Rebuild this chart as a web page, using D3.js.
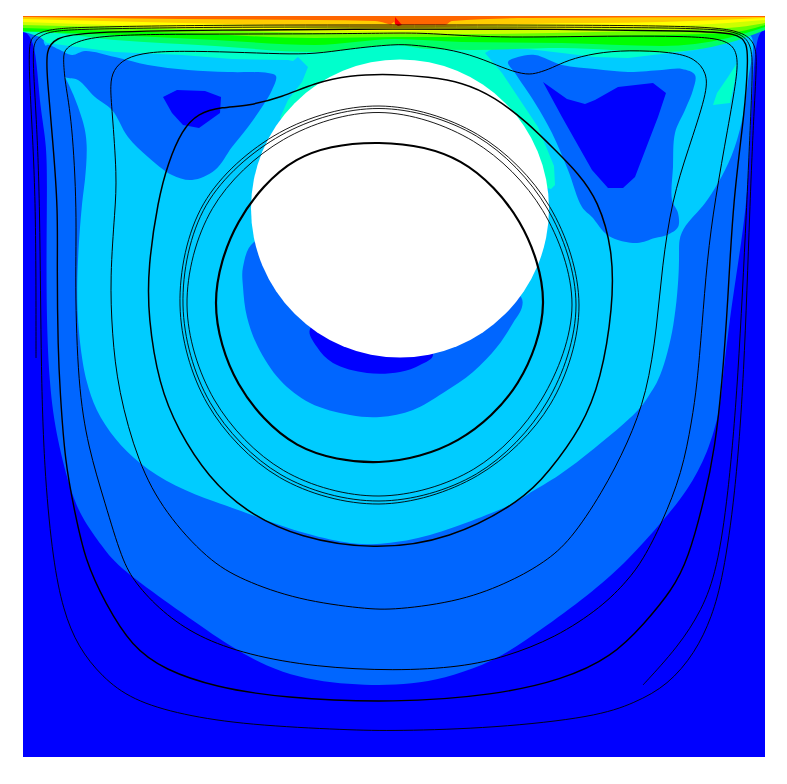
<!DOCTYPE html>
<html><head><meta charset="utf-8"><style>html,body{margin:0;background:#fff}svg{display:block}</style>
<script src="https://cdn.jsdelivr.net/npm/d3@7/dist/d3.min.js"></script></head><body><svg id="c" width="787" height="784"></svg>
<script>
// All geometry is in cavity units: x from left wall 0..742, y from moving lid 0..741.
const cavityWidth = 742, cavityDepth = 741;
const cylinder = {x: 377, y: 192.5, radius: 149};

const levelColors = ["#0000ff","#0066ff","#00ccff","#00ffcc","#00ff66","#00ff00","#66ff00","#ccff00","#ffff00","#ffcc00","#ff6600","#ff0000"];

const level1Boundary = [[0,0],[742,0],[742,14],[734,17],[730,61],[727,127],[724,189],[712,267],[705,317],[699,369],[697,394],[685,437],[665,474],[639,506],[605,544],[572,574],[522,611],[479,641],[439,657],[405,666],[372,669],[342,669],[309,667],[275,661],[245,651],[209,632],[159,597],[109,561],[90,544],[82,534],[62,507],[49,481],[34,424],[26,369],[23,284],[24,184],[24,127],[17,94],[13,31],[5,17],[0,16]];
const level2Boundary = [[7,14],[377,14],[717,14],[732,18],[729,44],[725,61],[722,94],[712,134],[699,161],[685,184],[674,197],[662,209],[655,224],[657,244],[652,311],[637,364],[627,377],[619,391],[602,407],[572,432],[535,461],[507,476],[494,487],[444,507],[394,524],[350,529],[327,528],[277,517],[224,497],[192,486],[152,471],[115,447],[92,424],[72,394],[63,364],[59,344],[54,301],[54,251],[59,184],[62,167],[65,127],[60,104],[50,77],[42,61],[24,29]];
const leftEddy = [[24,29],[35,33],[49,39],[62,35],[92,41],[125,49],[165,54],[205,56],[245,57],[253,60],[249,74],[239,91],[225,111],[209,131],[192,154],[169,164],[149,159],[125,141],[105,121],[89,94],[72,81],[55,64],[42,61],[19,44]];
const leftEddyCore = [[140,81],[154,74],[182,75],[198,81],[197,97],[176,112],[160,109],[149,97]];
const rightEddy = [[485,46],[495,41],[512,39],[539,49],[572,53],[605,56],[639,54],[659,53],[672,59],[670,74],[662,94],[652,117],[650,151],[649,184],[655,197],[655,211],[644,219],[632,222],[614,227],[592,223],[582,217],[569,201],[559,191],[545,154],[529,117],[512,87],[492,57]];
const rightEddyCore = [[520,66],[544,83],[562,88],[572,84],[595,71],[630,67],[643,77],[635,101],[625,127],[612,161],[600,172],[585,172],[569,154],[552,124],[539,101]];
const wakeBand = [[231,226],[220,251],[220,271],[224,301],[235,331],[257,364],[287,387],[327,399],[357,401],[390,394],[420,377],[450,356],[474,331],[490,307],[499,291],[498,281],[427,234],[297,214]];
const wakeCore = [[287,313],[294,331],[310,347],[344,357],[377,356],[397,349],[410,339],[357,284]];
const level3Region = [[0,16],[5,17],[17,21],[24,27],[92,36],[159,39],[209,43],[265,44],[270,45],[275,41],[285,51],[279,66],[265,84],[257,102],[307,134],[377,134],[477,124],[524,172],[528,173],[532,169],[531,150],[515,111],[497,84],[479,57],[462,37],[472,31],[505,33],[539,37],[572,41],[605,42],[672,34],[705,26],[719,22],[732,17],[742,14],[742,0],[0,0]];
const level3Patch = [[714,47],[705,61],[694,77],[690,89],[707,87],[712,64]];

// Lower edges of the lid shear layers: [x, depth]
const band00ff66 = [[0,16],[12,16],[92,24],[192,30],[292,36],[372,29],[405,33],[449,34],[539,32],[639,36],[705,27],[742,14]];
const band00ff00 = [[0,15],[92,19],[192,24],[292,29],[372,23],[439,26],[539,27],[639,30],[705,22],[742,11]];
const band66ff00 = [[0,12],[159,17],[292,22],[372,21],[439,21],[572,20],[705,17],[742,9]];
const bandccff00 = [[0,9],[159,13],[292,17],[372,18],[439,18],[572,16],[705,12],[742,7]];
const bandffff00 = [[0,6],[159,11],[372,15],[439,14],[572,12],[705,7],[742,4]];
const bandffcc00 = [[0,3],[159,7],[292,10],[372,12],[422,11],[505,8],[639,6],[742,2]];
const bandff6600 = [[0,1],[159,3],[292,4],[352,5],[372,9],[422,9],[429,5],[505,2],[742,1]];
const lidSpike = [[372,1],[379,9],[375,10],[372,8]];
const lidDot = [[368,8],[371,6],[373,10]];

// Streamlines
const spiralOuter = [[620,669],[620,669],[655,631],[679,594],[694,554],[705,481],[715,369],[724,184],[728,94],[730,44],[727,26],[715,15],[672,12],[539,11],[372,11],[192,11],[59,13],[27,15],[13,22],[9,34],[13,94],[17,184],[18,364],[22,464],[30,544],[40,594],[55,631],[79,661],[109,684],[159,699],[225,709],[325,714],[372,715],[472,712],[572,701],[612,687],[645,669],[672,637],[689,601],[700,561],[712,481],[721,364],[727,184],[731,94],[734,44],[732,26],[717,14],[672,10],[539,9],[372,9],[192,9],[59,11],[27,13],[10,19],[5,29],[8,94],[13,184],[13,342],[13,342]];
const loopC = [[372,687],[472,679],[539,664],[589,641],[622,607],[649,574],[665,544],[682,481],[692,431],[699,369],[705,284],[710,184],[722,94],[725,44],[724,27],[715,17],[672,15],[539,13],[372,13],[192,14],[59,16],[32,22],[23,34],[24,61],[30,127],[35,194],[34,251],[35,334],[37,374],[42,447],[52,497],[62,544],[82,587],[109,631],[142,654],[192,671],[259,682]];
const loopE = [[372,655],[439,651],[482,641],[532,622],[579,591],[605,564],[620,544],[639,507],[659,457],[669,404],[674,369],[679,311],[684,244],[692,184],[705,111],[714,61],[715,37],[705,24],[672,20],[572,20],[472,22],[405,17],[372,17],[292,18],[159,18],[92,19],[59,23],[42,32],[40,41],[42,67],[49,104],[54,194],[52,267],[55,369],[65,431],[82,487],[99,544],[112,567],[139,596],[175,621],[225,639],[292,651]];
const loopD = [[372,594],[439,585],[489,565],[522,546],[547,525],[579,477],[605,427],[624,377],[634,311],[639,251],[649,184],[665,134],[684,77],[684,57],[672,42],[649,36],[605,34],[572,37],[545,44],[529,52],[515,57],[504,59],[485,54],[462,44],[432,34],[392,29],[372,28],[325,33],[292,38],[259,38],[209,36],[159,35],[125,36],[102,42],[90,54],[87,69],[89,94],[94,161],[92,194],[87,261],[89,317],[95,374],[115,447],[142,497],[185,544],[219,564],[275,584],[342,593]];
const loopF = [[350,534],[427,524],[500,484],[525,457],[559,411],[578,364],[590,291],[590,234],[575,184],[555,157],[532,134],[505,107],[472,81],[439,66],[405,61],[372,58],[325,59],[292,67],[259,81],[225,90],[199,91],[175,97],[159,114],[145,147],[135,184],[125,251],[125,301],[136,369],[155,414],[185,461],[224,497],[277,522]];

// Closed orbits round the vortex centre: radius read every 30 degrees, clockwise from up
const orbitAngles = [0,30,60,90,120,150,180,210,240,270,300,330];
const ringCentre = [356,289];
const innerCentre = [356,287];
const ringOuterRadii = [199,197,197,200,198,197,199,199,198,199,202.5,199];
const ringMiddleRadii = [196.5,195,194,197,194,195,196,196,195,196,199.5,196];
const ringInnerRadii = [192.5,189,189,193,188,189.5,191,191,190,192,192.5,191];
const innermostRadii = [160,163,162,164,160,158,159,163.5,162,163,162,165];

const x = d3.scaleLinear().domain([0,cavityWidth]).range([23,765]);
const y = d3.scaleLinear().domain([0,cavityDepth]).range([16,757]);
const svg = d3.select("#c");
svg.append("clipPath").attr("id","frame").append("rect")
  .attr("x",x(0)).attr("y",y(0)).attr("width",x(cavityWidth)-x(0)).attr("height",y(cavityDepth)-y(0));
const g = svg.append("g").attr("clip-path","url(#frame)");

const px = d=>x(d[0]), py = d=>y(d[1]);
const smooth = d3.line().x(px).y(py).curve(d3.curveCatmullRomClosed.alpha(0.5));
const sharp  = d3.line().x(px).y(py).curve(d3.curveLinearClosed);
const soft   = d3.line().x(px).y(py).curve(d3.curveBasisClosed);
const softOpen = d3.line().x(px).y(py).curve(d3.curveBasis);
const band   = d3.area().x(px).y0(y(0)).y1(py).curve(d3.curveMonotoneX);
const orbit  = d3.lineRadial().angle(d=>d[0]*Math.PI/180).radius(d=>x(d[1])-x(0)).curve(d3.curveCatmullRomClosed.alpha(0.5));

g.append("rect").attr("x",x(0)).attr("y",y(0)).attr("width",x(cavityWidth)-x(0)).attr("height",y(cavityDepth)-y(0)).attr("fill",levelColors[0]);
const fill = (gen,data,color)=>g.append("path").attr("d",gen(data)).attr("fill",color);
fill(soft,level1Boundary,levelColors[1]);
fill(soft,level2Boundary,levelColors[2]);
fill(smooth,leftEddy,levelColors[1]);
fill(smooth,rightEddy,levelColors[1]);
fill(smooth,wakeBand,levelColors[1]);
fill(sharp,leftEddyCore,levelColors[0]);
fill(sharp,rightEddyCore,levelColors[0]);
fill(smooth,wakeCore,levelColors[0]);
fill(sharp,level3Region,levelColors[3]);
fill(sharp,level3Patch,levelColors[3]);
[band00ff66,band00ff00,band66ff00,bandccff00,bandffff00,bandffcc00,bandff6600].forEach((b,i)=>fill(band,b,levelColors[4+i]));
fill(sharp,lidSpike,levelColors[11]);
fill(sharp,lidDot,levelColors[9]);

g.append("ellipse").attr("cx",x(cylinder.x)).attr("cy",y(cylinder.y))
  .attr("rx",x(cylinder.radius)-x(0)).attr("ry",y(cylinder.radius)-y(0)).attr("fill","#fff");

const strokeLine = (gen,data,w)=>g.append("path").attr("d",gen(data)).attr("fill","none").attr("stroke","#000").attr("stroke-width",w);
strokeLine(softOpen,spiralOuter,0.9);
strokeLine(soft,loopC,1.4);
strokeLine(soft,loopE,1.0);
strokeLine(soft,loopD,1.0);
strokeLine(soft,loopF,1.5);
const strokeOrbit = (radii,centre,w)=>strokeLine(orbit,orbitAngles.map((a,i)=>[a,radii[i]]),w)
  .attr("transform",`translate(${x(centre[0])},${y(centre[1])})`);
strokeOrbit(ringOuterRadii,ringCentre,0.9);
strokeOrbit(ringMiddleRadii,ringCentre,0.9);
strokeOrbit(ringInnerRadii,ringCentre,0.9);
strokeOrbit(innermostRadii,innerCentre,2.2);
</script></body></html>
